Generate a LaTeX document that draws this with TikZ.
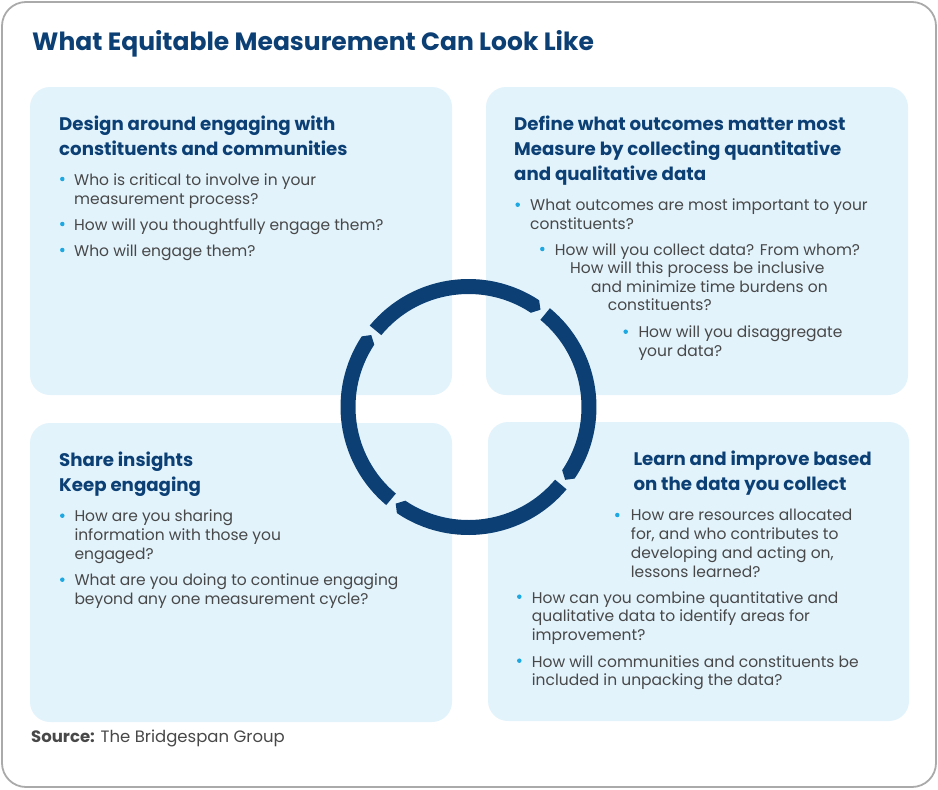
\documentclass[tikz,border=0pt]{standalone}
\usepackage{fontspec}
\setmainfont{Poppins}
\definecolor{navy}{RGB}{12,64,117}
\definecolor{pale}{RGB}{226,243,252}
\definecolor{ink}{RGB}{72,72,72}
\definecolor{dotc}{RGB}{30,168,226}
\definecolor{framec}{RGB}{170,170,170}
\tikzset{
 card/.style={fill=pale, rounded corners=20pt},
 head/.style={anchor=base west, inner sep=0pt, font=\fontsize{18.2}{25}\selectfont\bfseries, text=navy, align=left},
 body/.style={anchor=base west, inner sep=0pt, font=\fontsize{15.5}{18.7}\selectfont, text=ink, align=left},
 bul/.style={circle, fill=dotc, inner sep=0pt, minimum size=4.5pt},
}
\begin{document}
\begin{tikzpicture}[x=1pt,y=-1pt]
\useasboundingbox (0,0) rectangle (938,790);
\draw[framec, line width=1.8pt, rounded corners=24pt] (2,2) rectangle (936,787);
\node[anchor=base west, inner sep=0pt, font=\fontsize{25}{30}\selectfont\bfseries, text=navy] (title) at (32,50) {What Equitable Measurement Can Look Like};
\fill[card] (30,87) rectangle (452,395);
\fill[card] (486,87) rectangle (908,395);
\fill[card] (30,423) rectangle (452,722);
\fill[card] (488,422) rectangle (909,721);
% ring
\begin{scope}[shift={(468.5,407)}]
\foreach \s/\t in {140.5/53.5, 50.5/-37, -40/-127, 230/143.5}
 \fill[navy] (\s:128pt) arc[start angle=\s, end angle=\t+3, radius=128pt] -- (\t:121pt) -- ({\t+3}:113pt) arc[start angle=\t+3, end angle=\s, radius=113pt] -- cycle;
\end{scope}
% (multi-line nodes are anchored at the baseline of their last line)
% top left
\node[head] (h1) at (59,155) {Design around engaging with\\constituents and communities};
\node[bul] (b11) at (62.3,179) {};
\node[body] (t11) at (74,204) {Who is critical to involve in your\\measurement process?};
\node[bul] (b12) at (62.3,224) {};
\node[body] (t12) at (74,230) {How will you thoughtfully engage them?};
\node[bul] (b13) at (62.3,250) {};
\node[body] (t13) at (74,256) {Who will engage them?};
% top right
\node[head] (h2) at (514,180) {Define what outcomes matter most\\Measure by collecting quantitative\\and qualitative data};
\node[bul] (b21) at (517.7,204.7) {};
\node[body] (t21) at (530,229) {What outcomes are most important to your\\constituents?};
\node[bul] (b22) at (542.3,249) {};
\node[body] (t22) at (554.7,255) {How will you collect data? From whom?};
\node[body] (t23) at (570,273.3) {How will this process be inclusive};
\node[body] (t24) at (591,292) {and minimize time burdens on};
\node[body] (t25) at (607.7,310.3) {constituents?};
\node[bul] (b23) at (625.7,331.7) {};
\node[body] (t26) at (638.3,356) {How will you disaggregate\\your data?};
% bottom left
\node[head] (h3) at (59,491.7) {Share insights\\Keep engaging};
\node[bul] (b31) at (62.3,515.7) {};
\node[body] (t31) at (74.3,559) {How are you sharing\\information with those you\\engaged?};
\node[bul] (b32) at (62.3,579.7) {};
\node[body] (t32) at (74.3,604.3) {What are you doing to continue engaging\\beyond any one measurement cycle?};
% bottom right
\node[head] (h4) at (633.3,490) {Learn and improve based\\on the data you collect};
\node[bul] (b41) at (617.3,515) {};
\node[body] (t41) at (630.7,577) {How are resources allocated\\for, and who contributes to\\developing and acting on,\\lessons learned?};
\node[bul] (b42) at (519.3,596.7) {};
\node[body] (t42) at (531.7,640.5) {How can you combine quantitative and\\qualitative data to identify areas for\\improvement?};
\node[bul] (b43) at (519.3,660.7) {};
\node[body] (t43) at (531.7,685.7) {How will communities and constituents be\\included in unpacking the data?};
% source
\node[anchor=base west, inner sep=0pt, font=\fontsize{16.5}{20}\selectfont, text=ink] (src) at (31,742.7) {\textbf{Source:} The Bridgespan Group};
\end{tikzpicture}
\end{document}
